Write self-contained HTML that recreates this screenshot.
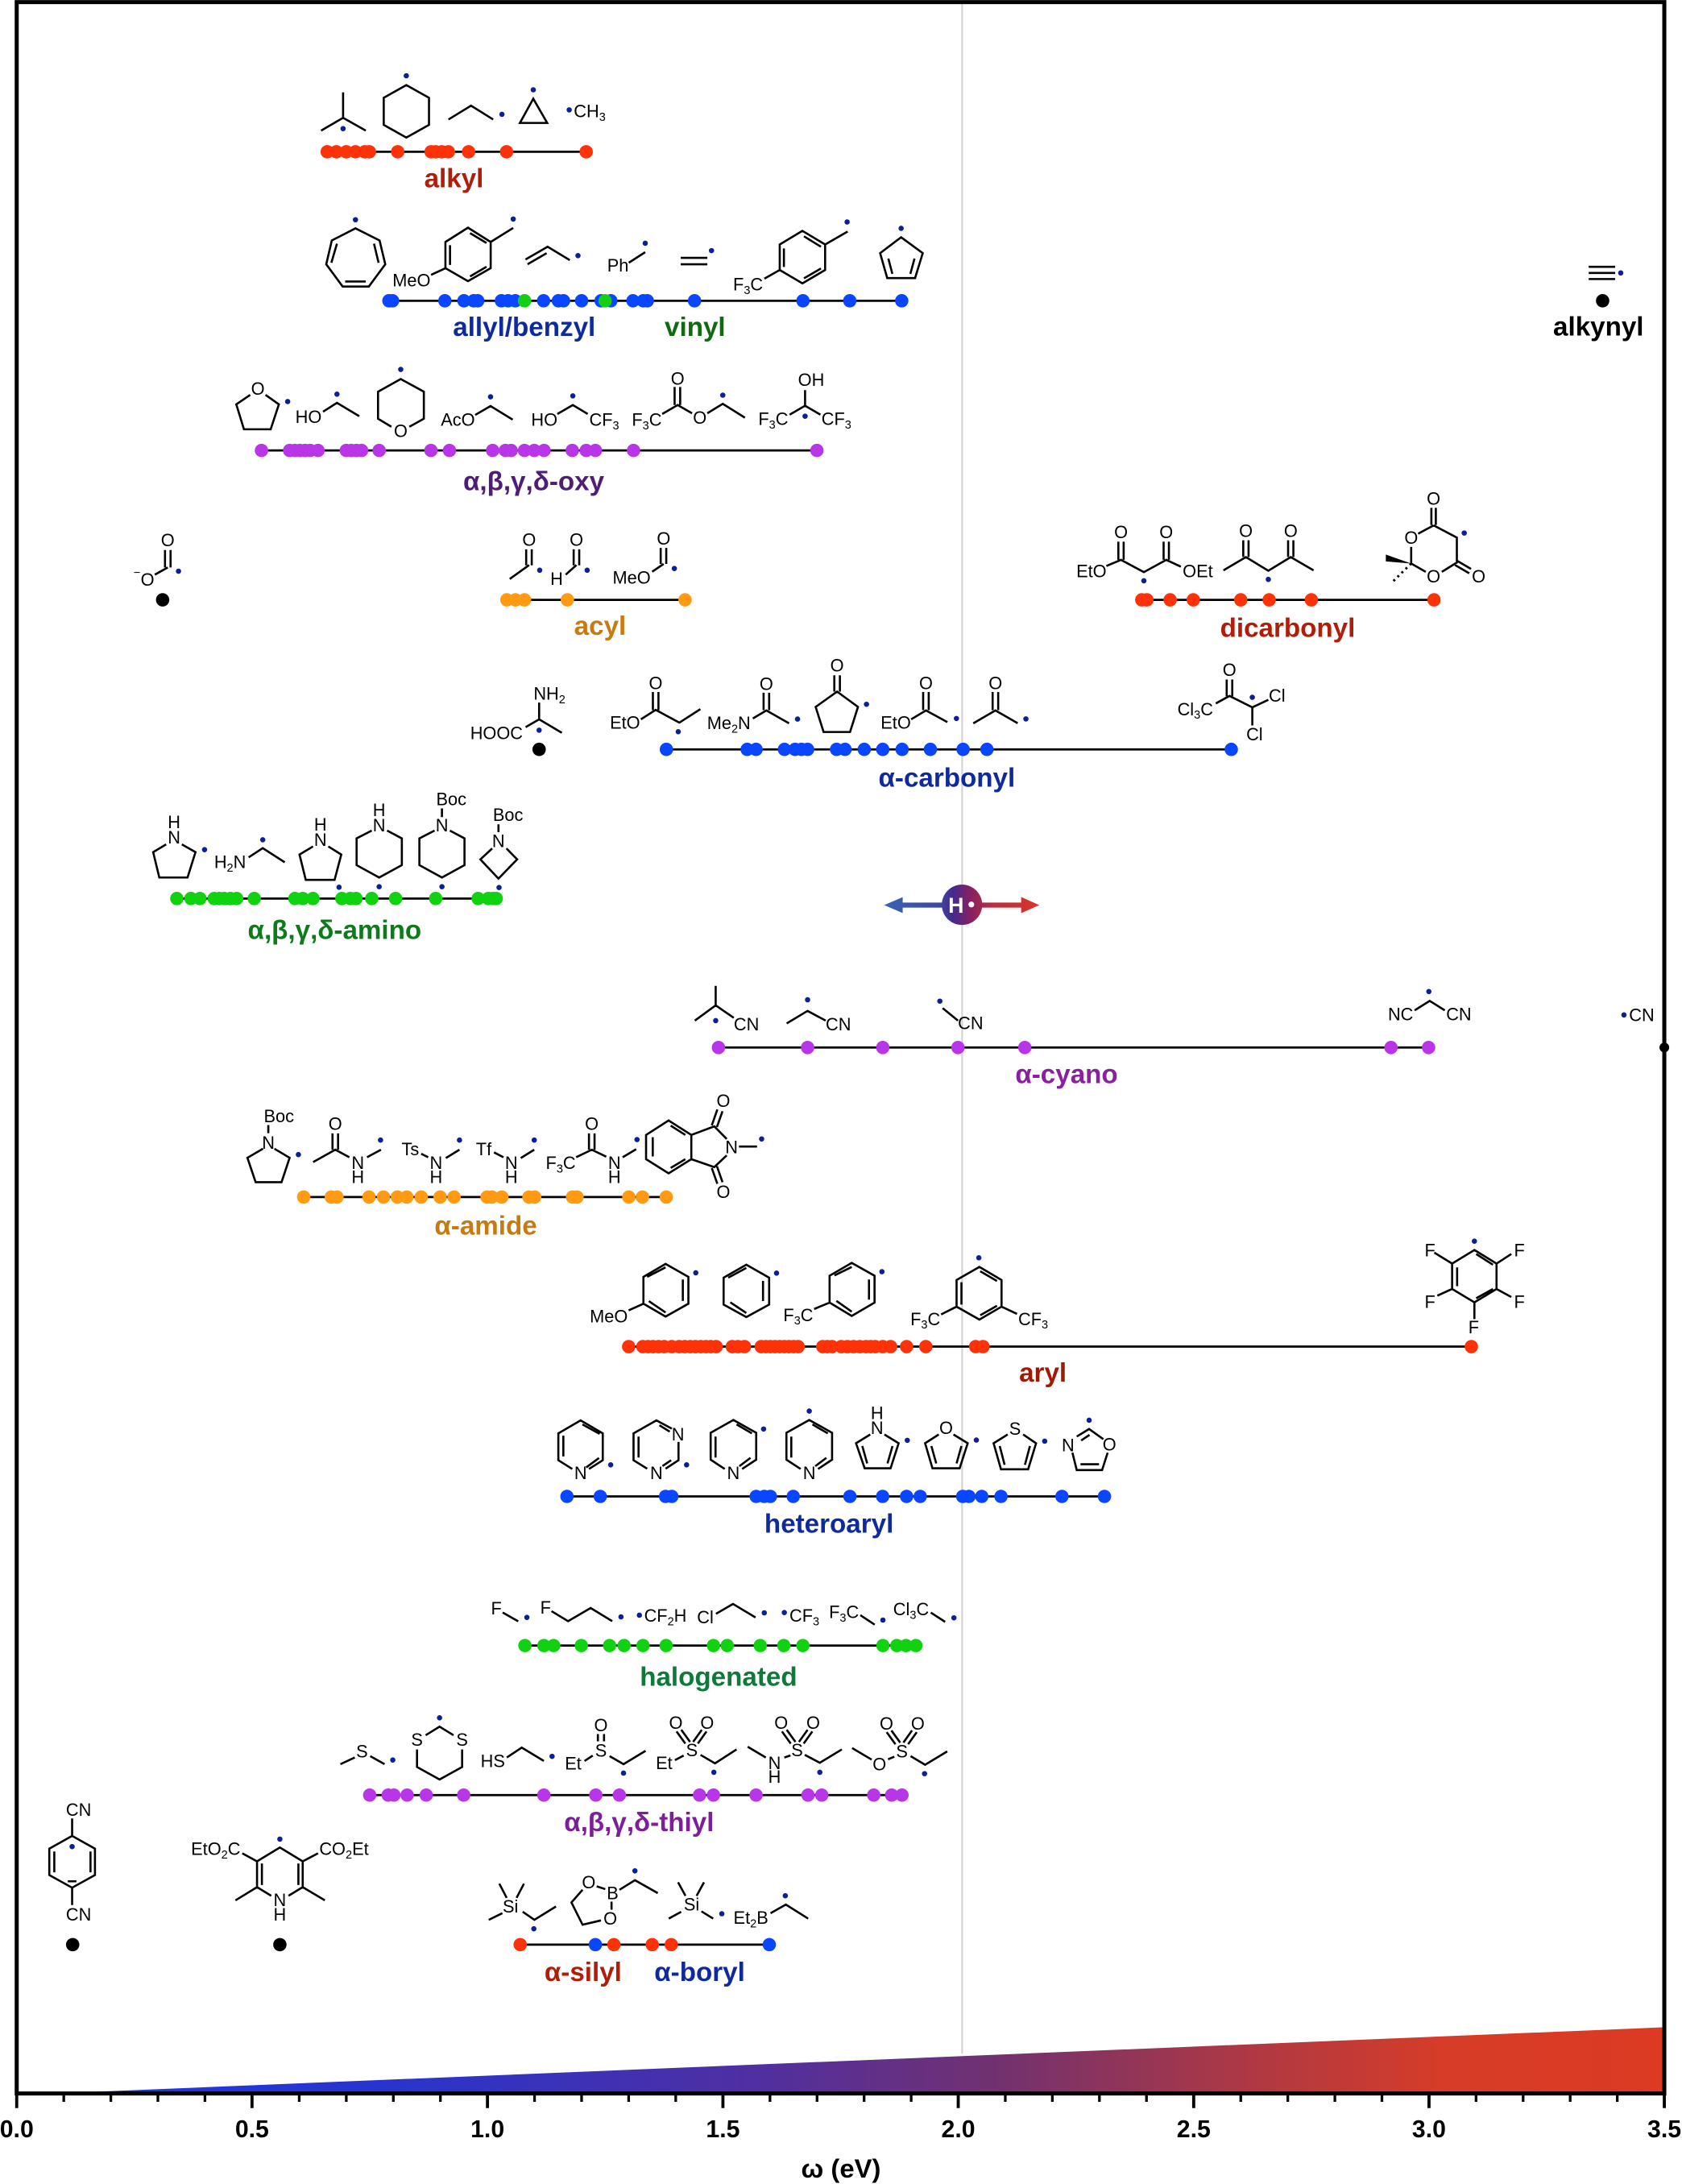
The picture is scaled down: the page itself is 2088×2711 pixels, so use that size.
<!DOCTYPE html>
<html><head><meta charset="utf-8"><title>Radical electrophilicity scale</title>
<style>
html,body{margin:0;padding:0;background:#fff}
svg{display:block}
text{font-family:"Liberation Sans",Arial,sans-serif;font-size:12.6px;fill:#000}
.c{text-anchor:middle}
.l{font-size:19.2px;font-weight:bold;text-anchor:middle}
.a{font-size:17.5px;font-weight:bold;text-anchor:middle}
.b{fill:none;stroke:#000;stroke-width:1.5;stroke-linecap:butt;stroke-linejoin:miter}
.r{fill:none;stroke:#0c1f96;stroke-width:3.8;stroke-linecap:round}
.n{fill:none;stroke-width:9.6;stroke-linecap:round}
.s{font-size:8.4px}
.ln{stroke:#000;stroke-width:1.6}
</style></head><body>
<svg width="2088" height="2711" viewBox="0 0 1208 1568.5" preserveAspectRatio="none" xmlns="http://www.w3.org/2000/svg">
<defs>
<linearGradient id="w" gradientUnits="userSpaceOnUse" x1="62" y1="0" x2="1194" y2="0">
<stop offset="0" stop-color="#1e36e0"/><stop offset=".2" stop-color="#2a34cc"/><stop offset=".42" stop-color="#4f2fa2"/><stop offset=".58" stop-color="#72316f"/><stop offset=".72" stop-color="#a83848"/><stop offset=".86" stop-color="#d63c28"/><stop offset="1" stop-color="#dc3a22"/>
</linearGradient>
<linearGradient id="h" gradientUnits="userSpaceOnUse" x1="635" y1="0" x2="747" y2="0">
<stop offset="0" stop-color="#3a62b4"/><stop offset=".36" stop-color="#3e469e"/><stop offset=".44" stop-color="#45298e"/><stop offset=".56" stop-color="#8a2060"/><stop offset=".68" stop-color="#b82c40"/><stop offset="1" stop-color="#d9362a"/>
</linearGradient>
</defs>

<!-- wedge and reference line -->
<path d="M62 1502.5L1194 1456V1502.5Z" fill="url(#w)"/>
<path d="M691 3V1475" stroke="#d2d2d2" stroke-width="1.2" fill="none"/>

<!-- frame & axis -->
<path d="M12 1.5H1195.3V1503.5H12Z" fill="none" stroke="#000" stroke-width="2.9"/>
<path d="M12 1503V1514M181 1503V1514M350.1 1503V1514M519.2 1503V1514M688.2 1503V1514M857.3 1503V1514M1026.3 1503V1514M1195.3 1503V1514" stroke="#000" stroke-width="2.2" fill="none"/>
<path d="M45.8 1503V1509.5M79.6 1503V1509.5M113.4 1503V1509.5M147.2 1503V1509.5M214.9 1503V1509.5M248.7 1503V1509.5M282.5 1503V1509.5M316.3 1503V1509.5M383.9 1503V1509.5M417.7 1503V1509.5M451.5 1503V1509.5M485.3 1503V1509.5M553 1503V1509.5M586.8 1503V1509.5M620.6 1503V1509.5M654.4 1503V1509.5M722 1503V1509.5M755.8 1503V1509.5M789.6 1503V1509.5M823.4 1503V1509.5M891.1 1503V1509.5M924.9 1503V1509.5M958.7 1503V1509.5M992.5 1503V1509.5M1060.1 1503V1509.5M1093.9 1503V1509.5M1127.7 1503V1509.5M1161.5 1503V1509.5" stroke="#000" stroke-width="1.9" fill="none"/>
<text class="a" x="12" y="1535">0.0</text><text class="a" x="181" y="1535">0.5</text><text class="a" x="350.1" y="1535">1.0</text><text class="a" x="519.2" y="1535">1.5</text><text class="a" x="688.2" y="1535">2.0</text><text class="a" x="857.3" y="1535">2.5</text><text class="a" x="1026.3" y="1535">3.0</text><text class="a" x="1195.3" y="1535">3.5</text>
<text class="a" x="604" y="1564" style="font-size:19px">ω (eV)</text>

<!-- chain lines -->
<path class="ln" fill="none" d="M235 109H421M279 216H647.6M187.8 323.5H586.7M364 430.8H492M820 430.8H1029.9M478.6 538.2H884.3M127 645.3H356.4M516 752.3H1026M218 859.7H478.5M451.5 967.1H1056.7M407.2 1074.7H793.2M377 1181.8H657.8M265.5 1289.2H647.8M373.6 1396.6H552.5"/>

<!-- data points -->
<path class="n" stroke="#fe3208" d="M235 109h0M241.6 109h0M248.7 109h0M255.3 109h0M262 109h0M265.3 109h0M285.6 109h0M309.6 109h0M312.9 109h0M317.3 109h0M322 109h0M336.5 109h0M363.8 109h0M421 109h0"/>
<path class="n" stroke="#0a46ff" d="M279.3 216h0M281.9 216h0M319.5 216h0M333.2 216h0M340.2 216h0M343.1 216h0M360.1 216h0M364.9 216h0M370.1 216h0M390.4 216h0M401 216h0M404.7 216h0M417.7 216h0M431.7 216h0M438.7 216h0M454.6 216h0M462 216h0M464.9 216h0M498.8 216h0M576.7 216h0M610.3 216h0M647.6 216h0"/>
<path class="n" stroke="#14cf14" d="M376.7 216h0M434.6 216h0"/>
<path class="n" stroke="#b935e8" d="M187.8 323.5h0M208 323.5h0M211.8 323.5h0M215.4 323.5h0M219.1 323.5h0M222.8 323.5h0M228.4 323.5h0M248.7 323.5h0M252.3 323.5h0M256 323.5h0M259.7 323.5h0M272.3 323.5h0M309.5 323.5h0M322.8 323.5h0M353.8 323.5h0M363 323.5h0M367.1 323.5h0M376.7 323.5h0M383.7 323.5h0M390.7 323.5h0M411 323.5h0M421 323.5h0M427.6 323.5h0M455 323.5h0M586.7 323.5h0"/>
<path class="n" stroke="#ff9a12" d="M364 430.8h0M370.2 430.8h0M376.7 430.8h0M407.5 430.8h0M492 430.8h0"/>
<path class="n" stroke="#fe3208" d="M820 430.8h0M823.7 430.8h0M840.4 430.8h0M857 430.8h0M891.1 430.8h0M911.5 430.8h0M941.8 430.8h0M1029.9 430.8h0"/>
<path class="n" stroke="#0a46ff" d="M478.6 538.2h0M536.6 538.2h0M543 538.2h0M563.4 538.2h0M571 538.2h0M575.6 538.2h0M580 538.2h0M600.8 538.2h0M606.9 538.2h0M620.7 538.2h0M634 538.2h0M647.9 538.2h0M668.2 538.2h0M691.7 538.2h0M708.8 538.2h0M884.3 538.2h0"/>
<path class="n" stroke="#10d210" d="M127 645.3h0M137.1 645.3h0M143.6 645.3h0M153.8 645.3h0M157.5 645.3h0M161.1 645.3h0M165.5 645.3h0M170 645.3h0M182.6 645.3h0M211.8 645.3h0M217.5 645.3h0M224.8 645.3h0M245.5 645.3h0M251.6 645.3h0M255.7 645.3h0M267 645.3h0M284.1 645.3h0M312.9 645.3h0M343.4 645.3h0M350.7 645.3h0M354 645.3h0M356.4 645.3h0"/>
<path class="n" stroke="#b935e8" d="M516 752.3h0M580 752.3h0M634 752.3h0M688 752.3h0M736 752.3h0M999 752.3h0M1026 752.3h0"/>
<path class="n" stroke="#ff9a12" d="M218.1 859.7h0M237.9 859.7h0M242 859.7h0M265 859.7h0M275.4 859.7h0M285.4 859.7h0M292.2 859.7h0M302.5 859.7h0M316.1 859.7h0M326.1 859.7h0M349.8 859.7h0M353.3 859.7h0M360.4 859.7h0M379.9 859.7h0M384 859.7h0M411.2 859.7h0M414.4 859.7h0M451.6 859.7h0M461.4 859.7h0M478.5 859.7h0"/>
<path class="n" stroke="#fe3208" d="M451.5 967.1h0M461.7 967.1h0M465.5 967.1h0M469 967.1h0M473 967.1h0M477 967.1h0M482.5 967.1h0M487.8 967.1h0M491.8 967.1h0M495.8 967.1h0M499.5 967.1h0M503.3 967.1h0M507 967.1h0M510.4 967.1h0M514.3 967.1h0M525.9 967.1h0M530 967.1h0M534.7 967.1h0M546.7 967.1h0M550 967.1h0M553.3 967.1h0M556.6 967.1h0M560 967.1h0M563.3 967.1h0M566.6 967.1h0M570 967.1h0M573.2 967.1h0M590.9 967.1h0M594.2 967.1h0M597.6 967.1h0M604.2 967.1h0M608.6 967.1h0M613 967.1h0M617.5 967.1h0M622 967.1h0M625.3 967.1h0M628.6 967.1h0M634 967.1h0M639.6 967.1h0M651.1 967.1h0M664.9 967.1h0M700.7 967.1h0M706 967.1h0M1056.7 967.1h0"/>
<path class="n" stroke="#0a46ff" d="M407.2 1074.7h0M431.1 1074.7h0M478 1074.7h0M482.5 1074.7h0M543.1 1074.7h0M548.9 1074.7h0M553.3 1074.7h0M569.7 1074.7h0M610.4 1074.7h0M633.9 1074.7h0M651.1 1074.7h0M660.9 1074.7h0M691.4 1074.7h0M695.9 1074.7h0M705.1 1074.7h0M718.9 1074.7h0M762.7 1074.7h0M793.2 1074.7h0"/>
<path class="n" stroke="#10d210" d="M377 1181.8h0M390.6 1181.8h0M397.6 1181.8h0M417.5 1181.8h0M437.8 1181.8h0M448.2 1181.8h0M461.8 1181.8h0M478.4 1181.8h0M512.4 1181.8h0M522.3 1181.8h0M546 1181.8h0M562.9 1181.8h0M576.6 1181.8h0M634.1 1181.8h0M644.1 1181.8h0M650.7 1181.8h0M657.8 1181.8h0"/>
<path class="n" stroke="#b935e8" d="M265.5 1289.2h0M278.8 1289.2h0M282.9 1289.2h0M292.4 1289.2h0M306.1 1289.2h0M333 1289.2h0M390.6 1289.2h0M427.9 1289.2h0M444.8 1289.2h0M502.4 1289.2h0M512.4 1289.2h0M543 1289.2h0M580.3 1289.2h0M590.2 1289.2h0M627.5 1289.2h0M640.4 1289.2h0M647.8 1289.2h0"/>
<path class="n" stroke="#fe3208" d="M373.6 1396.6h0M440.9 1396.6h0M468.4 1396.6h0M482.1 1396.6h0"/>
<path class="n" stroke="#0a46ff" d="M427.6 1396.6h0M552.5 1396.6h0"/>
<path class="n" stroke="#000" d="M116.8 430.8h0M387.2 538.2h0M1151 216h0M52.2 1396.6h0M201 1396.6h0"/>
<path class="n" stroke="#000" style="stroke-width:7" d="M1195.3 752.3h0"/>

<!-- bonds -->
<path class="b" d="
M246.4 66.3V84.6M230.6 93.8L246.4 84.6L262.7 93.8
M291.8 61.1L308.1 70.2V89.7L291.8 98.8L275.6 89.7V70.2Z
M322.1 85.8L338.3 75.9L354.2 85.8
M383 70.9L373.4 88.3H393Z
M255.3 164L272.6 172.7L276.7 189.8L264.9 205.8H246.1L234.3 189.8L238.3 172.7Z
M268.6 175L271.9 188.7M242 175L238 188.7M247.9 202.2H262.7
M336.1 163.5L352.4 173.8V192.6L336.1 201.9L319.9 192.6V173.8Z
M337.6 167.4L349.4 174.5M323.2 176.1V190.3M337.6 198.5L349.4 191.6
M352.4 173.8L368.6 163.7M309.6 197.4L319.9 192.6
M377.4 186.4L393.3 177.2L409.2 186.8M378.9 189.8L392.6 181.8
M451.6 188.7L463.4 181.1
M488.9 185.2H508M488.9 189.8H508
M576.3 165.8L592.6 175.6V193.9L576.3 203.5L560 193.9V175.6Z
M577.4 169.7L589.6 177.2M563 178.4V191.7M577.4 199.9L589.6 192.8
M592.6 175.6L608.8 166.3M549 200.1L560 193.9
M647.2 170.4L662.7 181.8L657.2 199.7H637.2L632.1 181.8Z
M638 185.7L640.9 196.7M656.8 185.7L653.8 196.7
M1141 191.6H1160M1141 196H1160M1141 200.4H1160
M179.7 283.6L169.7 290.4L175.2 308.3H194.4L200.3 290.4L190.7 283.6
M232 295.7L242 289.3L258 298.9
M281.1 306.5L271.5 300.7V281.3L287.8 272.2L304.4 281.3V300.7L294 306.5
M341.3 298L352.3 291.6L368.2 301.4
M400.3 297.3L411.4 290.9L422.1 297.3
M475.6 297.3L486.7 290.9L497 296.8M484.5 290.9V277.9M488.5 290.9V277.9
M508 296.8L519.1 290L535 300
M578.2 280.2V291.4M567.1 297.8L578.2 291.4L589.2 297.8
M118.5 395V407.5M122.5 395V407.5M120.5 407.5L111.2 412.7
M377.9 394.5V406M381.9 394.5V406M380 405.8L366.1 415.8
M412 394.5V406M416 394.5V406M414 405.8L406.3 412.7
M474.5 393.5V405M478.5 393.5V405M476.6 405L468.4 410.6
M387.2 504.6V516.6M377.5 522.2L387.2 516.6L403.5 526.3
M468.9 497V510M472.9 497V510M460.3 516.6L470.9 509.8L487.9 519L503 509.3
M548.4 497.5V510M552.4 497.5V510M540.7 516L550.4 510.2L566.7 519.5
M599.2 485V496.7M603.2 485V496.7M601.2 496.7L616.2 507.7L610.5 525.7H591.5L585.8 507.7Z
M663 497V510M667 497V510M654.4 516.6L665 510.2L680.4 518.6
M712.9 497V510M716.9 497V510M699 519.5L714.9 510.2L730.9 519.4
M881 488V500M885 488V500M873.2 505.2L883 499.8L899.4 508L910.9 502.6M899.4 508V521
M803.2 389V402M807 389V402M835.7 389V402M839.5 389V402M794.6 406.5L805.1 402.1L821.5 410.9L837.6 402.1L848.1 407
M892.9 388V400M896.7 388V400M925.1 388V400M928.9 388V400M878.7 409.6L894.8 400.1L910.9 409.9L927 400.1L943.4 409.6
M1028 364.7V377M1031.2 364.7V377M1029.6 377.3L1046.3 386.1V404L1035.5 410.7M1029.6 377.3L1018.5 383.3M1013.5 392.8V404.7L1024 410.7M1046.3 402.6L1056.5 408.6M1045 405.8L1055.2 411.7
M119.3 606.4L110 612L114.4 630.2H134.7L140.4 612L130.6 606.4
M178.6 615.7L188.7 609.1L204.5 619.3
M224.8 607.9L215.1 613.7L219.6 631.9H240.3L245.1 613.7L235.8 607.9
M267 596.5L256.1 602.1V621.3L272.3 630.2L288.6 621.3V602.1L278 596.5
M317.4 580.6V586.8M312.1 596.5L301.2 602.1V621.3L317.4 630.2L333.6 621.3V602.1L323.1 596.5
M358 592V597.6M353.5 609.3L345 617.2L358 631L371.4 617.2L363.7 609.3
M514 708V722M499 733L514 722L527 731
M565 735L580 726L593 733
M677 724L688 733
M1016 725.6L1026.8 718.8L1037.6 725.6
M192.7 808V813.8M188.9 825L177.7 831.5L183.6 849H202.2L208 831.5L197.1 825
M238.8 814V825.7M242.8 814V825.7M224.9 834.6L240.8 825.7L250.9 831.1M263.6 831.1L273.6 825.7
M302.5 828.6L307.5 831.1M320.2 831.7L330 825.7
M354.8 827.6L361.6 831.1M374 831.7L383.7 825.7
M423 814V825.7M427 814V825.7M413.8 831.1L425 825.7L435.4 830.7M447.2 831.1L456.9 825.3
M480.2 804.7L496.5 815.1V832.5L480.2 842.7L464 832.5V815.1Z
M481.7 808.4L492.2 815.1M468.8 816.7V830.5M481.7 838.8L492.2 832.5
M496.5 815.1L513 808.9L521.9 818M496.5 832.5L513 838.2L521.9 829.8
M511.2 808.2L515.2 796.8M514.9 809.4L518.9 798M511.2 838.9L515.2 850.2M514.9 837.6L518.9 849
M530.7 823.4H543.7
M478 907.7L494.4 917V936.3L478 945.5L462.1 936.3V917Z
M464.8 917L478 910.2M490.4 918.9V934.3M466 934.4L478 942.6M451.5 941.1L462.1 936.3
M536 908.3L552.4 917.6V936.9L536 945.9L519.7 936.9V917.6Z
M523 917.6L536 910.6M548 919.9V934.4M524.5 935.3L536 943
M611.7 907L628.1 916.2V935.5L611.7 945.1L595.8 935.5V916.2Z
M599.3 916L611.7 909.9M624.1 918.9V933.4M600.7 934.3L611.7 942M584.7 940.1L595.8 935.5
M703.4 909.9L719.3 919.3V938.4L703.4 947.7L687 938.4V919.3Z
M704 913L716 920M690.5 920.9V936.9M704 944.6L716 937.8M687 938.4L675.9 944M719.3 938.4L730.4 943.6
M1058.9 897.7L1074.8 907.5V925.7L1058.9 935.3L1042.9 925.7V907.5Z
M1060.2 900.6L1072.2 908.3M1046.5 910.2V923.7M1060.2 932.4L1072.2 925.7
M1042.9 907.5L1030.1 899.6M1074.8 907.5L1085.4 900.6M1042.9 925.7L1032.3 930.5M1074.8 925.7L1085.4 931.5M1058.9 935.3V947.3
M423 1055L432.9 1048.7V1029.4L417 1020.1L401 1029.4V1048.7L411 1055
M418.3 1023L430.7 1029.8M421 1053.9L430.2 1047.1M404.6 1031V1046
M482.5 1026L471.4 1020.1L455 1029.4V1048.7L464.8 1054.8M487.3 1035.6V1046.2L487.3 1048.7L478 1054.8
M473.6 1023.6L481 1028.2M458.6 1031.7V1046.8M482 1048.7L475.8 1052.9
M533 1055L543.1 1048.3V1029L526.7 1019.8L510.4 1029V1048.3L520.5 1055
M529 1023L540 1029.4M539 1047L531 1053M513.9 1031.7V1046.8
M587.5 1055L597.6 1048.3V1029L581.2 1019.8L564.8 1029V1048.3L575 1055
M583.5 1023L594.5 1029.4M593.5 1047L585.5 1053M568.3 1031.7V1046.8
M625 1030.2L614.8 1036.5L621 1054.5H639.6L645.4 1036.5L635.2 1030.2M619.3 1038.5L622.8 1051M641 1038.5L637.4 1051
M674.2 1030.2L664.4 1036.5L669.7 1054.5H689.2L695 1036.5L684.8 1030.2M668.9 1038.5L672.4 1051M690.5 1038.5L687 1051
M723.7 1030.2L713.6 1036.5L718.9 1055.2H738.4L744.1 1036.5L734.8 1030.2M718 1038.5L721.5 1052M739.7 1038.5L736.1 1052
M773.3 1031.7L782.2 1026.3L792.4 1033.6M776.5 1034.5L782.5 1030.5M770.2 1043.3L773.3 1055.8H791.5L795.5 1043.3M776 1051.6H789.3
M361 1158.1L372.2 1164.4
M396.1 1157.1L408 1164.3L424.2 1154.8L439.7 1164.3
M514.2 1159L526.4 1151.9L542.6 1161.6
M617.9 1160L628.2 1166.8
M668.5 1158.1L678.8 1164.8
M244.5 1267L254.8 1262.2M265.9 1261.2L276.2 1267
M305.7 1246.2L315.7 1240L325.7 1246.2M299.5 1256.4V1269L315.7 1278L331.9 1269V1256.4
M364 1262.2L374.7 1255.1L390.6 1264.7
M429.4 1245.4V1250.6M433.8 1245.4V1250.6M419.8 1264.7L425.7 1260.8M437.8 1261.2L447.8 1267L463.7 1257.4
M485.9 1243.5L492.2 1252.2M489.3 1242.3L495.6 1251M504 1242.3L497.8 1251M507.4 1243.5L501.2 1252.2M484.7 1264.1L491 1260.8M503.1 1260.3L513.5 1266.4L529 1256.4
M561.6 1243.5L567.9 1252.2M565 1242.3L571.3 1251M580 1242.3L573.8 1251M583.4 1243.5L577.2 1252.2M537 1254.5L550 1262.2M563.3 1262.2L567.7 1260.7M578 1260.3L588.8 1266L604.6 1256.4
M636.8 1244L643.1 1252.7M640.2 1242.8L646.5 1251.5M655 1242.8L648.8 1251.5M658.4 1244L652.2 1252.7M612 1255.4L626 1263.7M637.8 1263.5L642.3 1261.6M654 1261.2L664.4 1267.4L680.3 1257.8
M51.8 1306V1318.5M51.8 1318.5L68.2 1327.7V1346.6L51.8 1355.7L35.4 1346.6V1327.7Z
M39 1329.7V1344.7M65 1329.7V1344.7M48.7 1351.1H54.9M51.8 1355.7V1368.2
M207.2 1361.5L217.4 1355.3V1336.8L201 1326.8L184.6 1336.8V1355.3L194.8 1361.5
M188.1 1338.3V1353.8M214.3 1338.3V1353.8M184.6 1355.3L169.1 1364.8M217.4 1355.3L233.3 1364.8M184.6 1336.8L174 1331M217.4 1336.8L228.4 1331
M358.6 1352.8L363.9 1363M376.3 1352.8L371 1363M351 1378.8L360.8 1374M375.4 1373L383.8 1378.8L399.3 1369.2
M418.4 1357.2L410.4 1366.3L418.4 1382.3L431.6 1379.2M428.5 1354.7L434.7 1356.7M439.2 1365.7V1371.5M444.9 1357.2L456 1350.3L472.4 1359.6
M487 1351.8L492.3 1361.5M505.6 1351.8L500.3 1361.5M480.3 1377.9L489.2 1373M503.8 1372.7L512.2 1377.9
M553.4 1374L564.4 1367.8L580.4 1377.9"/>
<path d="M1013.5 404.7L995.3 398.3V403.2Z" fill="#000"/>
<path d="M1013.5 404.7L999.3 418.7" stroke="#000" stroke-width="1.7" stroke-dasharray="1.5 2.6" fill="none"/>

<!-- radical dots -->
<path class="r" d="M246.4 92.4h0M291.8 54.4h0M360.5 82.1h0M383 64.5h0M408.8 78.9h0M255.3 157.8h0M368.6 157.3h0M415.1 183.6h0M463.4 174.7h0M511 180h0M608.4 159.4h0M647.2 164h0M1164 196h0M206.6 288.4h0M242 283.1h0M287.8 265.3h0M352.3 285h0M411.4 284.3h0M519.1 283.8h0M578.2 298.9h0M128.2 410.2h0M387.6 409.5h0M421.7 409.5h0M484.3 408.3h0M387.2 524.4h0M487.1 525.5h0M572.8 516.4h0M622.3 505.8h0M686.9 516h0M736.8 516.3h0M899.4 500.8h0M821.5 417.1h0M910.9 416.1h0M1051.6 382.8h0M146.9 610.2h0M188.7 603.1h0M243.5 637.2h0M272.3 636.8h0M317.4 636.8h0M358.4 637.4h0M514 733h0M580 718h0M675 719h0M1026.2 712.1h0M1166.3 728.9h0M214.3 829.2h0M273.3 818.8h0M330 818.8h0M383.7 818.8h0M457.5 818.4h0M547 818h0M499.7 914.1h0M557.7 914.3h0M633.4 913.3h0M703 903.3h0M1058.9 891.4h0M438.6 1052h0M493.1 1052h0M548.4 1026.3h0M581.2 1013.4h0M651.6 1034.4h0M701.2 1034.2h0M750.3 1035h0M782.2 1020h0M378.4 1161.6h0M446 1161.2h0M459.2 1160h0M548.9 1158.3h0M563.3 1158.1h0M634.1 1163.5h0M685.1 1161.9h0M282.1 1264h0M315.7 1233.7h0M396.5 1261.4h0M447.8 1273.4h0M512.7 1272.8h0M588.8 1272.8h0M664 1273.8h0M51.8 1326.2h0M201 1320.8h0M383.4 1385.2h0M456 1343.6h0M518.4 1374.4h0M564 1361.5h0"/>

<!-- H radical -->
<path d="M635 650L648.3 644.3V648.2H733.4V644.2L746.4 650L733.4 655.8V651.8H648.3V655.7Z" fill="url(#h)"/>
<circle cx="690.9" cy="649.8" r="14.5" fill="url(#h)"/>
<text x="681" y="655.6" style="font-size:15.5px;font-weight:bold;fill:#fff">H</text>
<circle cx="697.6" cy="649.6" r="2.1" fill="#fff"/>

<!-- molecule text -->
<text x="412.1" y="84.2">CH<tspan class="s" dy="2.5">3</tspan></text>
<text x="281.9" y="205.8">MeO</text><text x="436.1" y="194.9">Ph</text>
<text x="526.5" y="208.6">F<tspan class="s" dy="2.5">3</tspan><tspan dy="-2.5">C</tspan></text>
<text class="c" x="185.2" y="283.6">O</text><text x="212.1" y="303.7">HO</text><text class="c" x="287.8" y="313.8">O</text>
<text x="316.6" y="305.8">AcO</text><text x="381.5" y="305.8">HO</text><text x="423.2" y="305.8">CF<tspan class="s" dy="2.5">3</tspan></text>
<text x="453.8" y="305.8">F<tspan class="s" dy="2.5">3</tspan><tspan dy="-2.5">C</tspan></text>
<text class="c" x="486.7" y="276.3">O</text><text class="c" x="502.6" y="304.2">O</text>
<text class="c" x="582.6" y="277.2">OH</text>
<text x="544.6" y="305.3">F<tspan class="s" dy="2.5">3</tspan><tspan dy="-2.5">C</tspan></text><text x="590" y="305.3">CF<tspan class="s" dy="2.5">3</tspan></text>
<text class="c" x="120.5" y="392.2">O</text><text class="c" x="105.9" y="420.5">O</text><text x="96" y="414" class="s">−</text>
<text class="c" x="380" y="392">O</text><text class="c" x="414" y="392">O</text><text class="c" x="399.8" y="419.9">H</text>
<text class="c" x="476.6" y="391">O</text><text x="440" y="419.3">MeO</text>
<text x="383.2" y="502.5">NH<tspan class="s" dy="2.5">2</tspan></text><text x="337.7" y="530.8">HOOC</text>
<text class="c" x="470.9" y="494.9">O</text><text x="438" y="523.2">EtO</text>
<text class="c" x="550.4" y="495.5">O</text><text x="507.8" y="523.6">Me<tspan class="s" dy="2.5">2</tspan><tspan dy="-2.5">N</tspan></text>
<text class="c" x="601.2" y="482.3">O</text><text class="c" x="665" y="494.9">O</text><text x="632.5" y="523.2">EtO</text><text class="c" x="714.9" y="494.9">O</text>
<text class="c" x="883" y="485.3">O</text><text x="911.2" y="503.9">Cl</text><text class="c" x="901" y="531.8">Cl</text>
<text x="845.6" y="513.7">Cl<tspan class="s" dy="2.5">3</tspan><tspan dy="-2.5">C</tspan></text>
<text class="c" x="805.1" y="386.6">O</text><text class="c" x="837.6" y="386.6">O</text><text x="773" y="414.5">EtO</text><text x="849.4" y="414.5">OEt</text>
<text class="c" x="894.8" y="385.6">O</text><text class="c" x="927" y="385.6">O</text>
<text class="c" x="1029.6" y="362.6">O</text><text class="c" x="1062" y="418.2">O</text><text class="c" x="1029.6" y="418.2">O</text><text class="c" x="1013.5" y="390.5">O</text>
<text class="c" x="125" y="594.9">H</text><text class="c" x="125" y="605.8">N</text>
<text x="153.8" y="623.4">H<tspan class="s" dy="2.5">2</tspan><tspan dy="-2.5">N</tspan></text>
<text class="c" x="230.1" y="596.5">H</text><text class="c" x="230.1" y="607.5">N</text>
<text class="c" x="272.3" y="586.2">H</text><text class="c" x="272.3" y="597.1">N</text>
<text x="313.3" y="578.4">Boc</text><text class="c" x="317.4" y="597.1">N</text>
<text x="354" y="589.7">Boc</text><text class="c" x="358" y="608.3">N</text>
<text x="527" y="740">CN</text><text x="593" y="740">CN</text><text x="688" y="739">CN</text>
<text x="996.8" y="732.8">NC</text><text x="1038.6" y="732.8">CN</text><text x="1170" y="733.3">CN</text>
<text x="189.5" y="806">Boc</text><text class="c" x="192.7" y="825">N</text>
<text class="c" x="240.8" y="811.4">O</text><text class="c" x="257" y="839.6">N</text><text class="c" x="257" y="849.6">H</text>
<text x="288.4" y="829.8">Ts</text><text class="c" x="313.2" y="839.6">N</text><text class="c" x="313.2" y="849.6">H</text>
<text x="341.8" y="829.8">Tf</text><text class="c" x="367.2" y="839.6">N</text><text class="c" x="367.2" y="849.6">H</text>
<text class="c" x="425" y="811.4">O</text><text x="392" y="839.6">F<tspan class="s" dy="2.5">3</tspan><tspan dy="-2.5">C</tspan></text><text class="c" x="441.3" y="839.6">N</text><text class="c" x="441.3" y="849.6">H</text>
<text class="c" x="525.4" y="828.2">N</text><text class="c" x="519.5" y="795">O</text><text class="c" x="519.5" y="860.4">O</text>
<text x="423.6" y="949.8">MeO</text>
<text x="562.6" y="948.8">F<tspan class="s" dy="2.5">3</tspan><tspan dy="-2.5">C</tspan></text>
<text x="653.8" y="951.7">F<tspan class="s" dy="2.5">3</tspan><tspan dy="-2.5">C</tspan></text><text x="731.3" y="951.7">CF<tspan class="s" dy="2.5">3</tspan></text>
<text class="c" x="1027" y="902.2">F</text><text class="c" x="1091.2" y="902.2">F</text><text class="c" x="1027" y="939.2">F</text><text class="c" x="1091.2" y="939.2">F</text><text class="c" x="1058.4" y="957.5">F</text>
<text class="c" x="417" y="1062.2">N</text><text class="c" x="486.9" y="1034.6">N</text><text class="c" x="471.4" y="1062.2">N</text><text class="c" x="526.7" y="1062.2">N</text><text class="c" x="581.2" y="1062.2">N</text>
<text class="c" x="629.9" y="1019.2">H</text><text class="c" x="629.9" y="1029.8">N</text>
<text class="c" x="679.5" y="1029.8">O</text><text class="c" x="729" y="1030.4">S</text>
<text class="c" x="767.1" y="1042.3">N</text><text class="c" x="796.8" y="1041.7">O</text>
<text x="352.6" y="1159.4">F</text><text x="388" y="1159">F</text>
<text x="462.6" y="1164.8">CF<tspan class="s" dy="2.5">2</tspan><tspan dy="-2.5">H</tspan></text>
<text x="500.6" y="1165.8">Cl</text><text x="567" y="1164.8">CF<tspan class="s" dy="2.5">3</tspan></text>
<text x="595.4" y="1162.1">F<tspan class="s" dy="2.5">3</tspan><tspan dy="-2.5">C</tspan></text>
<text x="641.5" y="1160">Cl<tspan class="s" dy="2.5">3</tspan><tspan dy="-2.5">C</tspan></text>
<text class="c" x="260" y="1262.2">S</text><text class="c" x="299.5" y="1253.9">S</text><text class="c" x="331.9" y="1253.9">S</text>
<text x="345.2" y="1269">HS</text>
<text class="c" x="431.6" y="1261.6">S</text><text class="c" x="431.6" y="1243.3">O</text><text x="405.7" y="1270.9">Et</text>
<text class="c" x="496.9" y="1261.2">S</text><text class="c" x="485.4" y="1241.6">O</text><text class="c" x="507.9" y="1241.6">O</text><text x="471" y="1270.5">Et</text>
<text class="c" x="572.5" y="1261.2">S</text><text class="c" x="561" y="1241.6">O</text><text class="c" x="584" y="1241.6">O</text><text class="c" x="556.3" y="1270.5">N</text><text class="c" x="556.3" y="1280.5">H</text>
<text class="c" x="647.8" y="1262.2">S</text><text class="c" x="636.7" y="1242.3">O</text><text class="c" x="659.2" y="1242.3">O</text><text class="c" x="631.6" y="1271.3">O</text>
<text x="47.4" y="1304">CN</text><text x="47.4" y="1379.2">CN</text>
<text class="c" x="201" y="1368.8">N</text><text class="c" x="201" y="1379.4">H</text>
<text x="137.2" y="1332.2">EtO<tspan class="s" dy="2.5">2</tspan><tspan dy="-2.5">C</tspan></text>
<text x="229.3" y="1332.2">CO<tspan class="s" dy="2.5">2</tspan><tspan dy="-2.5">Et</tspan></text>
<text class="c" x="366.6" y="1373.4">Si</text>
<text class="c" x="422.8" y="1356.1">O</text><text class="c" x="440" y="1364">B</text><text class="c" x="438.3" y="1382.3">O</text>
<text class="c" x="496.7" y="1372">Si</text>
<text x="526.8" y="1381.7">Et<tspan class="s" dy="2.5">2</tspan><tspan dy="-2.5">B</tspan></text>

<!-- category labels -->
<text class="l" x="326" y="134.5" style="fill:#b01d08">alkyl</text>
<text class="l" x="376.5" y="241.3" style="fill:#0f2a9c">allyl/benzyl</text>
<text class="l" x="499.2" y="241.3" style="fill:#0e6b10">vinyl</text>
<text class="l" x="1148" y="241" style="fill:#000">alkynyl</text>
<text class="l" x="383.3" y="352.2" style="fill:#4f1d78">α,β,γ,δ-oxy</text>
<text class="l" x="431" y="456" style="fill:#c87a10">acyl</text>
<text class="l" x="924.8" y="457.4" style="fill:#b01d08">dicarbonyl</text>
<text class="l" x="680" y="565" style="fill:#0f2a9c">α-carbonyl</text>
<text class="l" x="240.3" y="674.4" style="fill:#0e7a1c">α,β,γ,δ-amino</text>
<text class="l" x="766" y="778" style="fill:#8a1fa0">α-cyano</text>
<text class="l" x="348.9" y="886.6" style="fill:#c87a10">α-amide</text>
<text class="l" x="749" y="992.2" style="fill:#a01a08">aryl</text>
<text class="l" x="595.4" y="1100.7" style="fill:#0f2a9c">heteroaryl</text>
<text class="l" x="516" y="1210.7" style="fill:#0e7a3a">halogenated</text>
<text class="l" x="459" y="1315" style="fill:#7d1f98">α,β,γ,δ-thiyl</text>
<text class="l" x="418.8" y="1422.6" style="fill:#b01d08">α-silyl</text>
<text class="l" x="502.5" y="1422.6" style="fill:#0f2a9c">α-boryl</text>
</svg>
</body></html>
